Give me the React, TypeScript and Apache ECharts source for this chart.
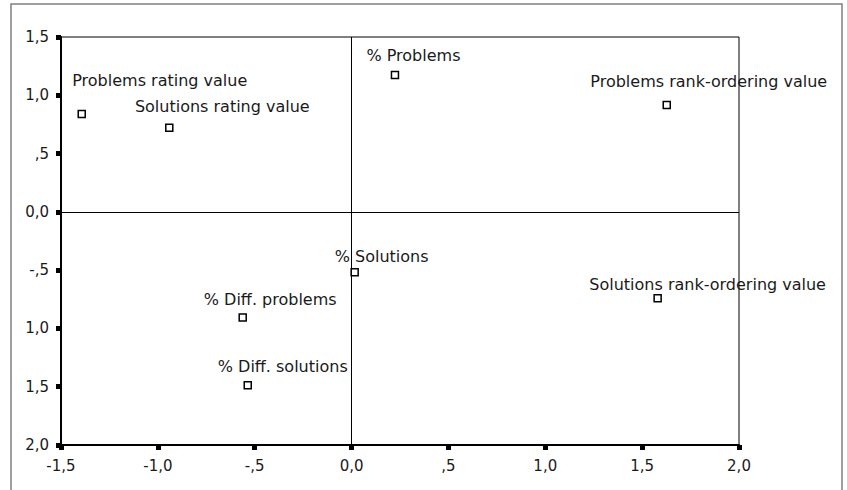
import React, { useEffect, useRef } from "react";
import * as echarts from "echarts";

const pointNames = [
  "Problems rating value",
  "Solutions rating value",
  "% Problems",
  "Problems rank-ordering value",
  "% Solutions",
  "Solutions rank-ordering value",
  "% Diff. problems",
  "% Diff. solutions",
];
const xValues = [-1.393, -0.941, 0.224, 1.627, 0.016, 1.58, -0.562, -0.536];
const yValues = [0.84, 0.722, 1.174, 0.917, -0.518, -0.741, -0.907, -1.487];

const xTickValues = [-1.5, -1, -0.5, 0, 0.5, 1, 1.5, 2];
const xTickLabels = ["-1,5", "-1,0", "-,5", "0,0", ",5", "1,0", "1,5", "2,0"];
const yTickValues = [-2, -1.5, -1, -0.5, 0, 0.5, 1, 1.5];
const yTickLabels = ["2,0", "1,5", "1,0", "-,5", "0,0", ",5", "1,0", "1,5"];

// label offsets (styling) relative to each point's centre
const labelOffsets: [number, number][] = [
  [78, -33],
  [53, -21],
  [18.5, -20],
  [42, -23],
  [27, -16],
  [50, -14],
  [27.5, -18.5],
  [35, -18.5],
];

const FONT = "DejaVu Sans";

function tickLabel(values: number[], labels: string[]) {
  return (v: number) => {
    const i = values.findIndex((t) => Math.abs(t - v) < 1e-6);
    return i >= 0 ? labels[i] : "";
  };
}

export default function App() {
  const ref = useRef<HTMLDivElement>(null);
  useEffect(() => {
    if (!ref.current) return;
    const chart = echarts.init(ref.current, undefined, { renderer: "svg" });
    const data = pointNames.map((name, i) => ({
      name,
      value: [xValues[i], yValues[i]],
      label: {
        show: true,
        position: "inside",
        offset: labelOffsets[i],
        formatter: name,
        color: "#1a1a1a",
        fontFamily: FONT,
        fontSize: 16,
      },
    }));
    const axisCommon = {
      type: "value",
      interval: 0.5,
      splitLine: { show: false },
      axisLine: { show: true, onZero: false, lineStyle: { color: "#000", width: 2 } },
      axisTick: { show: true, length: 5, lineStyle: { color: "#000", width: 5 } },
    };
    chart.setOption({
      animation: false,
      backgroundColor: "#fff",
      grid: {
        left: 61,
        top: 37,
        right: 108,
        bottom: 45,
        show: true,
        borderColor: "#000",
        borderWidth: 1,
        backgroundColor: "transparent",
      },
      xAxis: {
        ...axisCommon,
        min: -1.5,
        max: 2,
        axisLabel: {
          margin: 13,
          color: "#1a1a1a",
          fontFamily: FONT,
          fontSize: 15,
          showMinLabel: true,
          showMaxLabel: true,
          formatter: tickLabel(xTickValues, xTickLabels),
        },
      },
      yAxis: {
        ...axisCommon,
        min: -2,
        max: 1.5,
        axisLabel: {
          margin: 12,
          color: "#1a1a1a",
          fontFamily: FONT,
          fontSize: 15,
          showMinLabel: true,
          showMaxLabel: true,
          formatter: tickLabel(yTickValues, yTickLabels),
        },
      },
      graphic: [
        {
          type: "rect",
          shape: { x: 11, y: 4, width: 831, height: 520 },
          style: { fill: "none", stroke: "#808080", lineWidth: 1.5 },
          silent: true,
        },
      ],
      series: [
        {
          type: "scatter",
          symbol: "rect",
          symbolSize: 7,
          itemStyle: { color: "#fff", borderColor: "#000", borderWidth: 1.5, opacity: 1 },
          data,
          markLine: {
            silent: true,
            symbol: ["none", "none"],
            label: { show: false },
            lineStyle: { color: "#000", type: "solid", width: 1 },
            data: [{ xAxis: 0 }, { yAxis: 0 }],
          },
          z: 3,
        },
      ],
    });
    return () => chart.dispose();
  }, []);
  return (
    <div
      ref={ref}
      style={{ position: "fixed", left: 0, top: 0, width: 847, height: 490 }}
    />
  );
}
